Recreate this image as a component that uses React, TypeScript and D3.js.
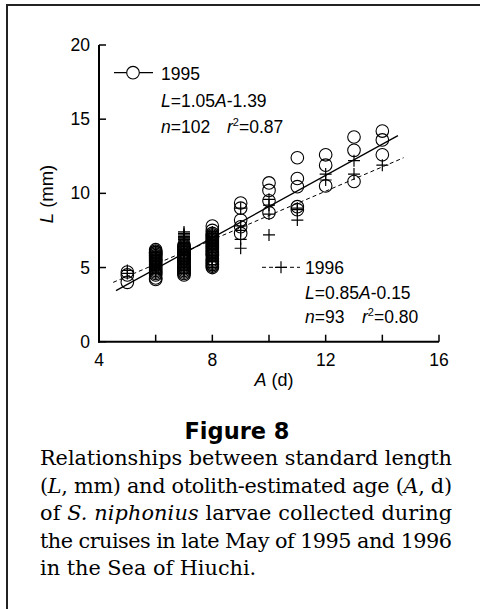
import React, { useEffect, useRef } from "react";
import * as d3 from "d3";

// ages (d) and standard lengths (mm) read per age column
const ages = [5, 6, 7, 8, 9, 10, 11, 12, 13, 14];

const sl1995 = [
  [4.0, 4.5, 4.7],
  [4.2, 4.3, 4.5, 4.6, 4.7, 4.8, 4.9, 5.0, 5.1, 5.2, 5.3, 5.4, 5.5, 5.5, 5.6, 5.7, 5.8, 5.9, 6.0, 6.0, 6.1, 6.2],
  [4.5, 4.6, 4.7, 4.8, 4.9, 5.0, 5.0, 5.1, 5.2, 5.3, 5.4, 5.5, 5.5, 5.6, 5.7, 5.8, 5.8, 5.9, 6.0, 6.0, 6.1, 6.2, 6.3, 6.4, 6.5],
  [5.0, 5.1, 5.2, 5.3, 5.4, 5.5, 5.6, 5.8, 5.9, 6.0, 6.1, 6.2, 6.3, 6.4, 6.5, 6.6, 6.7, 6.8, 6.9, 7.0, 7.1, 7.2, 7.3, 7.5, 7.8],
  [7.3, 7.75, 8.2, 9.0, 9.35],
  [8.7, 9.5, 10.2, 10.7],
  [8.9, 9.1, 10.45, 11.0, 12.4],
  [10.5, 11.9, 12.6],
  [10.8, 12.9, 13.8],
  [12.6, 13.6, 14.2],
];

const sl1996 = [
  [4.6, 4.8],
  [4.6, 4.8, 4.9, 5.0, 5.0, 5.1, 5.2, 5.2, 5.3, 5.4, 5.4, 5.5, 5.6, 5.6, 5.7, 5.8, 5.8, 5.9, 6.0, 6.1],
  [4.6, 4.8, 5.0, 5.2, 5.3, 5.4, 5.5, 5.6, 5.8, 5.9, 6.0, 6.1, 6.2, 6.3, 6.4, 6.5, 6.6, 6.6, 6.7, 6.8, 6.9, 6.9, 7.0, 7.0, 7.1, 7.2, 7.3, 7.4],
  [5.0, 5.2, 5.4, 5.5, 5.6, 5.7, 5.8, 6.0, 6.1, 6.2, 6.3, 6.4, 6.5, 6.6, 6.6, 6.7, 6.8, 6.8, 6.9, 7.0, 7.0, 7.1, 7.2, 7.3, 7.4],
  [6.3, 6.9, 7.5, 7.8, 9.0],
  [7.2, 8.6, 9.2, 9.6],
  [8.2, 8.9, 9.0],
  [10.9, 11.3],
  [11.3, 12.2],
  [11.9],
];

// regression line end points [A, L]
const fit1995 = [[4.6, 3.44], [14.55, 13.89]];
const fit1996 = [[4.5, 4.0], [14.75, 12.4]];

const xTicks = [4, 6, 8, 10, 12, 14, 16];
const xLabels = [4, 8, 12, 16];
const yTicks = [0, 5, 10, 15, 20];

const captionLines = [
  "Relationships between standard length",
  "(L, mm) and otolith-estimated age (A, d)",
  "of S. niphonius larvae collected during",
  "the cruises in late May of 1995 and 1996",
  "in the Sea of Hiuchi.",
];

const W = 480;
const H = 609;

const App: React.FC = () => {
  const ref = useRef<SVGSVGElement>(null);

  useEffect(() => {
    document.body.style.margin = "0";
    drawChart();
  }, []);

  const drawChart = () => {
    const svg = d3.select(ref.current);
    svg.selectAll("*").remove();
    const sans = "'Liberation Sans', Arial, sans-serif";
    const fs = 17.5;

    // frame (left + top only)
    svg
      .append("path")
      .attr("d", `M7,${H} V5 H${W}`)
      .attr("fill", "none")
      .attr("stroke", "#222")
      .attr("stroke-width", 2);

    const x = d3.scaleLinear().domain([4, 16]).range([99, 439]);
    const y = d3.scaleLinear().domain([0, 20]).range([341.7, 45]);

    const g = svg.append("g");

    // axes
    g.append("line")
      .attr("x1", x(4)).attr("x2", x(4))
      .attr("y1", y(20)).attr("y2", y(0) + 1)
      .attr("stroke", "#000").attr("stroke-width", 2);
    g.append("line")
      .attr("x1", x(4) - 1).attr("x2", x(16))
      .attr("y1", y(0)).attr("y2", y(0))
      .attr("stroke", "#000").attr("stroke-width", 2);

    yTicks.forEach((t) => {
      g.append("line")
        .attr("x1", x(4)).attr("x2", x(4) + 7)
        .attr("y1", y(t)).attr("y2", y(t))
        .attr("stroke", "#000").attr("stroke-width", 1.5);
      g.append("text")
        .attr("x", 90).attr("y", y(t) + 6)
        .attr("text-anchor", "end")
        .attr("font-family", sans).attr("font-size", fs)
        .text(t);
    });
    xTicks.forEach((t) => {
      g.append("line")
        .attr("x1", x(t)).attr("x2", x(t))
        .attr("y1", y(0)).attr("y2", y(0) - 7)
        .attr("stroke", "#000").attr("stroke-width", 1.5);
    });
    xLabels.forEach((t) => {
      g.append("text")
        .attr("x", x(t)).attr("y", 366)
        .attr("text-anchor", "middle")
        .attr("font-family", sans).attr("font-size", fs)
        .text(t);
    });

    // axis titles
    const yt = g.append("text")
      .attr("transform", `translate(53,194) rotate(-90)`)
      .attr("text-anchor", "middle")
      .attr("font-family", sans).attr("font-size", 18.5);
    yt.append("tspan").attr("font-style", "italic").text("L");
    yt.append("tspan").text(" (mm)");

    const xt = g.append("text")
      .attr("x", 274).attr("y", 386)
      .attr("text-anchor", "middle")
      .attr("font-family", sans).attr("font-size", 18);
    xt.append("tspan").attr("font-style", "italic").text("A");
    xt.append("tspan").text(" (d)");

    // regression lines
    const line = d3.line<number[]>().x((d) => x(d[0])).y((d) => y(d[1]));
    g.append("path").attr("d", line(fit1995))
      .attr("fill", "none").attr("stroke", "#000").attr("stroke-width", 1.3);
    g.append("path").attr("d", line(fit1996))
      .attr("fill", "none").attr("stroke", "#000").attr("stroke-width", 1)
      .attr("stroke-dasharray", "4,3");

    // points
    const r = 6.3;
    const pts95: [number, number][] = [];
    ages.forEach((a, i) => sl1995[i].forEach((v) => pts95.push([a, v])));
    const pts96: [number, number][] = [];
    ages.forEach((a, i) => sl1996[i].forEach((v) => pts96.push([a, v])));

    const plus = (sel: any, cx: number, cy: number) => {
      sel.append("path")
        .attr("d", `M${cx - 6},${cy} H${cx + 6} M${cx},${cy - 6} V${cy + 6}`)
        .attr("stroke", "#000").attr("stroke-width", 1.2).attr("fill", "none");
    };

    const pg = g.append("g");
    pts96.forEach((d) => plus(pg, x(d[0]), y(d[1])));
    pg.selectAll("circle.p95")
      .data(pts95)
      .enter()
      .append("circle")
      .attr("class", "p95")
      .attr("cx", (d) => x(d[0]))
      .attr("cy", (d) => y(d[1]))
      .attr("r", r)
      .attr("fill", "none")
      .attr("stroke", "#000")
      .attr("stroke-width", 1.1);

    // legend helpers
    const eqn = (lx: number, ly: number, k: string, b: string) => {
      const t = g.append("text").attr("x", lx).attr("y", ly)
        .attr("font-family", sans).attr("font-size", fs);
      t.append("tspan").attr("font-style", "italic").text("L");
      t.append("tspan").text(`=${k}`);
      t.append("tspan").attr("font-style", "italic").text("A");
      t.append("tspan").text(`-${b}`);
    };
    const stats = (lx: number, ly: number, n: string, rx: number, r2: string) => {
      const t = g.append("text").attr("x", lx).attr("y", ly)
        .attr("font-family", sans).attr("font-size", fs);
      t.append("tspan").attr("font-style", "italic").text("n");
      t.append("tspan").text(`=${n}`);
      t.append("tspan").attr("x", rx).attr("font-style", "italic").text("r");
      t.append("tspan").attr("font-size", 11).attr("dy", -7).text("2");
      t.append("tspan").attr("dy", 7).text(`=${r2}`);
    };

    // legend 1995
    g.append("line").attr("x1", 114).attr("x2", 153).attr("y1", 72.7).attr("y2", 72.7)
      .attr("stroke", "#000").attr("stroke-width", 1.3);
    g.append("circle").attr("cx", 133).attr("cy", 72.7).attr("r", r)
      .attr("fill", "#fff").attr("stroke", "#000").attr("stroke-width", 1.1);
    g.append("text").attr("x", 161).attr("y", 80)
      .attr("font-family", sans).attr("font-size", fs).text("1995");
    eqn(161, 107, "1.05", "1.39");
    stats(161, 133, "102", 227, "0.87");

    // legend 1996
    g.append("line").attr("x1", 262).attr("x2", 300).attr("y1", 267.3).attr("y2", 267.3)
      .attr("stroke", "#000").attr("stroke-width", 1).attr("stroke-dasharray", "4,3");
    plus(g, 281, 267.3);
    g.append("text").attr("x", 305).attr("y", 273.5)
      .attr("font-family", sans).attr("font-size", fs).text("1996");
    eqn(305, 299, "0.85", "0.15");
    stats(305, 322.5, "93", 362, "0.80");

    // figure title
    svg.append("text")
      .attr("x", 237).attr("y", 439)
      .attr("text-anchor", "middle")
      .attr("font-family", "'DejaVu Sans', sans-serif")
      .attr("font-weight", "bold")
      .attr("font-size", 22.5)
      .text("Figure 8");

    // caption
    const serif = "'DejaVu Serif', serif";
    const italics = ["L", "A", "S.", "niphonius"];
    captionLines.forEach((ln, i) => {
      const t = svg.append("text")
        .attr("x", 40).attr("y", 465 + i * 27.5)
        .attr("font-family", serif).attr("font-size", 20.8);
      if (i < captionLines.length - 1) {
        t.attr("textLength", 412).attr("lengthAdjust", "spacing");
      }
      const tokens = ln.split(/(\bL\b|\bA\b|S\.|niphonius)/);
      tokens.forEach((tk) => {
        if (!tk) return;
        const ts = t.append("tspan").text(tk);
        if (italics.includes(tk)) ts.attr("font-style", "italic");
      });
    });
  };

  return <svg ref={ref} width={W} height={H} style={{ display: "block", background: "#fff" }} />;
};

export default App;
